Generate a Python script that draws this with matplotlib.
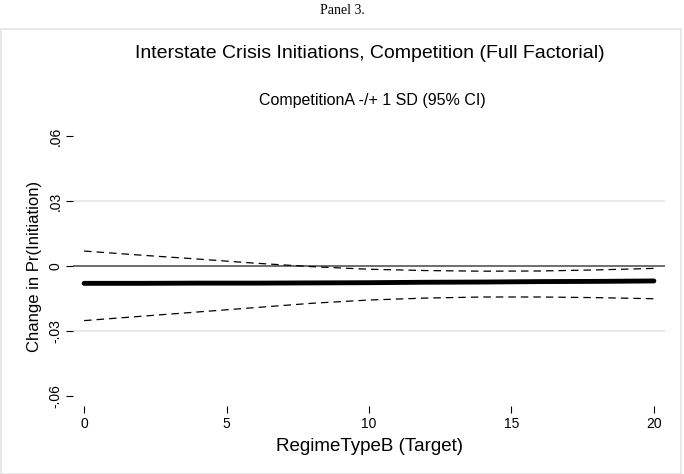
import matplotlib.pyplot as plt
from matplotlib.patches import Rectangle

# values
regime_b = [0, 2, 4, 6, 8, 10, 12, 14, 16, 18, 20]
effect = [-0.0080, -0.0080, -0.0079, -0.0079, -0.0078, -0.0077, -0.0075, -0.0074, -0.0072, -0.0071, -0.0069]
upper_ci = [0.0069, 0.0050, 0.0032, 0.0013, -0.0003, -0.0015, -0.0021, -0.0024, -0.0023, -0.0018, -0.0011]
lower_ci = [-0.0252, -0.0232, -0.0212, -0.0192, -0.0172, -0.0157, -0.0148, -0.0143, -0.0143, -0.0146, -0.0151]
y_ticks = [-0.06, -0.03, 0, 0.03, 0.06]
y_ticklabels = ["-.06", "-.03", "0", ".03", ".06"]
x_ticks = [0, 5, 10, 15, 20]

plt.rcParams['font.family'] = ['Liberation Sans', 'DejaVu Sans']

fig = plt.figure(figsize=(6.84, 4.74), dpi=100)
W, H = 684, 474

# outer graph box (behind the axes)
box = Rectangle((1 / W, 0), 680 / W, (H - 29) / H, transform=fig.transFigure,
                facecolor='white', edgecolor='#e4e4e4', lw=1.2, zorder=-5)
fig.patches.append(box)
fig.text(342 / W, 1 - 10 / H, "Panel 3.", ha='center', va='center',
         family='Liberation Serif', fontsize=10)

# axes: x from px 73 to 665, y from px 406 (bottom) to 126 (top)
ax = fig.add_axes([73 / W, 1 - 406 / H, (665 - 73) / W, (406 - 126) / H])
ax.set_xlim(-0.39, 20.39)
ax.set_ylim(-0.0646, 0.0646)
ax.patch.set_alpha(0)

for y in [-0.03, 0.03]:
    ax.axhline(y, color='#e6e6e6', lw=1.2, zorder=0)
ax.axhline(0, color='#555555', lw=1.2, zorder=1)

ax.plot(regime_b, upper_ci, color='black', lw=0.9, dashes=(6, 4))
ax.plot(regime_b, lower_ci, color='black', lw=0.9, dashes=(6, 4))
ax.plot(regime_b, effect, color='black', lw=3.5, solid_capstyle='round')

for s in ax.spines.values():
    s.set_visible(False)

ax.set_yticks(y_ticks)
ax.set_yticklabels(y_ticklabels, rotation=90, va='center')
ax.set_xticks(x_ticks)
ax.tick_params(axis='both', direction='out', length=5, width=0.8, labelsize=10)
ax.tick_params(axis='y', pad=2.5)
ax.tick_params(axis='x', pad=3)

ax.set_xlabel("RegimeTypeB (Target)", fontsize=13.5, labelpad=5)
ax.set_ylabel("Change in Pr(Initiation)", fontsize=12, labelpad=5)

fig.text(370 / W, 1 - 54 / H, "Interstate Crisis Initiations, Competition (Full Factorial)",
         ha='center', va='center', fontsize=14)
fig.text(372 / W, 1 - 101 / H, "CompetitionA -/+ 1 SD (95% CI)",
         ha='center', va='center', fontsize=11.5)

fig.savefig("out.png", dpi=100)
